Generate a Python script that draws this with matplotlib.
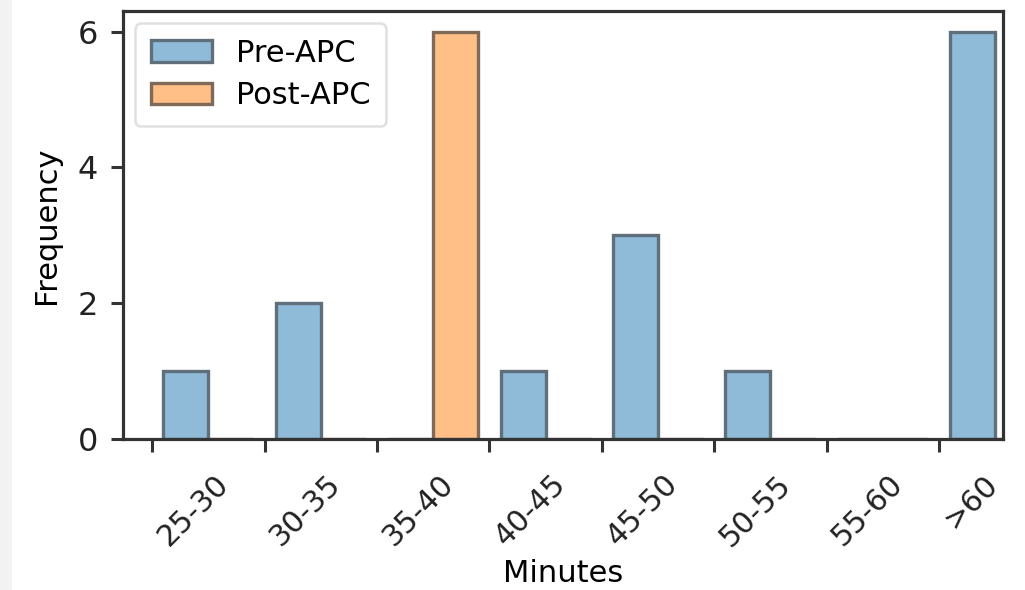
import numpy as np
import matplotlib
matplotlib.use("Agg")
import matplotlib.pyplot as plt
from matplotlib.patches import Rectangle

# minutes bins and counts
bins = ["25-30", "30-35", "35-40", "40-45", "45-50", "50-55", "55-60", ">60"]
pre_apc = [1, 2, 0, 1, 3, 1, 0, 6]
post_apc = [0, 0, 6, 0, 0, 0, 0, 0]

plt.rcParams['font.family'] = ['DejaVu Sans']
plt.rcParams['font.size'] = 22

fig = plt.figure(figsize=(10.25, 5.9), dpi=100)
fig.patches.append(Rectangle((0, 0), 12 / 1025, 1, transform=fig.transFigure,
                             facecolor='#f2f2f2', edgecolor='none', zorder=0))
ax = fig.add_axes([0.12, 0.256, 0.8585, 0.725])

x = np.arange(len(bins))
w = 0.4
ax.bar(x + 0.1, pre_apc, width=w, align='edge', facecolor='#8fbbd9',
       edgecolor='#5f6f7c', linewidth=2.4, label='Pre-APC')
ax.bar(x + 0.5, post_apc, width=w, align='edge', facecolor='#ffbf86',
       edgecolor='#7f6a5a', linewidth=2.4, label='Post-APC')

ax.set_xlim(-0.26, 7.57)
ax.set_ylim(0, 6.3)
ax.set_yticks([0, 2, 4, 6])
ax.set_xticks(x)
ax.set_xticklabels(bins, rotation=45, ha='left')

for s in ax.spines.values():
    s.set_color('#333333')
    s.set_linewidth(2.3)
ax.tick_params(axis='both', colors='#333333', length=9, width=2.2,
               labelcolor='#222222', pad=9, labelsize=23)
ax.tick_params(axis='x', pad=13, labelsize=21.5)

ax.set_xlabel('Minutes', labelpad=5)
ax.set_ylabel('Frequency', labelpad=12)

leg = ax.legend(loc='upper left', frameon=True, fancybox=True,
                borderpad=0.5, labelspacing=0.45, fontsize=22,
                borderaxespad=0.4)
leg.get_frame().set_edgecolor('#d9d9d9')
leg.get_frame().set_linewidth(1.8)

fig.savefig('out.png', dpi=100)
